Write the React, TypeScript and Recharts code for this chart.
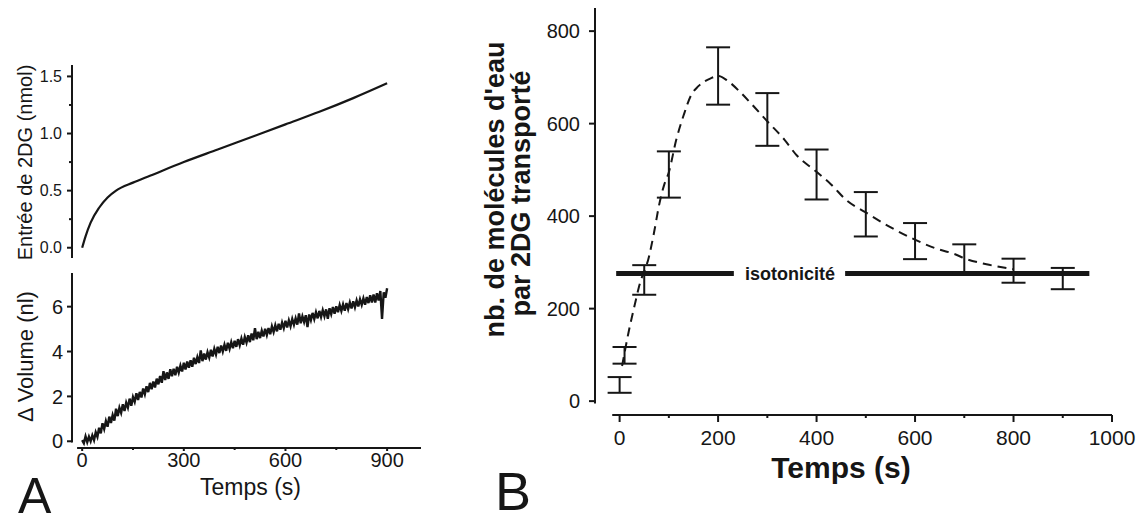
import React from "react"
import {
  ComposedChart,
  LineChart,
  Line,
  XAxis,
  YAxis,
  Scatter,
  ErrorBar,
  ReferenceLine,
  ReferenceDot,
} from "recharts"

// Panel A, top: 2DG entry (nmol) vs time (s)
const ENTRY_T = [0, 10, 25, 50, 75, 100, 150, 200, 300, 400, 500, 600, 700, 800, 900]
const ENTRY_V = [0, 0.1, 0.22, 0.35, 0.44, 0.5, 0.57, 0.63, 0.75, 0.86, 0.97, 1.08, 1.19, 1.31, 1.44]

// Panel A, bottom: volume change (nl), one sample every 5 s from 0 to 900 s
const VOLUME_STEP = 5
const VOLUME_V = [
  0.05, -0.09, 0.22, -0.04, 0.2, 0.0, 0.26, 0.05, 0.4, 0.2,
  0.6, 0.35, 0.8, 0.55, 0.9, 0.65, 1.1, 0.82, 1.17, 0.92,
  1.45, 1.12, 1.5, 1.27, 1.65, 1.35, 1.72, 1.5, 1.9, 1.58,
  1.97, 1.76, 2.14, 1.84, 2.2, 1.95, 2.35, 2.1, 2.45, 2.19,
  2.6, 2.32, 2.66, 2.4, 2.79, 2.54, 2.91, 2.61, 3.12, 2.73,
  3.07, 2.78, 3.21, 2.9, 3.23, 2.94, 3.32, 3.06, 3.37, 3.11,
  3.5, 3.2, 3.55, 3.28, 3.61, 3.32, 3.72, 3.44, 3.75, 3.49,
  4.05, 3.57, 3.91, 3.64, 3.97, 3.73, 4.08, 3.78, 4.12, 3.87,
  4.21, 3.93, 4.27, 4.0, 4.3, 4.03, 4.39, 4.12, 4.42, 4.15,
  4.48, 4.21, 4.55, 4.28, 4.58, 4.3, 4.65, 4.4, 4.72, 4.42,
  4.8, 4.5, 5.04, 4.55, 4.88, 4.6, 4.93, 4.67, 5.01, 4.74,
  5.05, 4.77, 5.12, 4.87, 5.17, 4.9, 5.24, 4.97, 5.29, 5.04,
  5.37, 5.07, 5.39, 5.13, 5.45, 5.19, 5.48, 5.2, 5.7, 5.26,
  5.57, 5.32, 5.62, 5.09, 5.65, 5.4, 5.72, 5.45, 5.75, 5.48,
  5.81, 5.54, 5.84, 5.57, 5.88, 5.46, 5.93, 5.67, 5.98, 5.69,
  6.02, 5.75, 6.07, 5.81, 6.1, 5.82, 6.16, 5.89, 6.19, 5.92,
  6.24, 5.97, 6.28, 6.01, 6.33, 6.08, 6.37, 6.09, 6.43, 6.16,
  6.51, 6.19, 6.54, 6.18, 6.6, 6.27, 6.7, 5.45, 6.64, 6.4,
  6.82,
]

// Panel B: water molecules per transported 2DG (mean and error)
const POINT_T = [0, 10, 50, 100, 200, 300, 400, 500, 600, 700, 800, 900]
const POINT_V = [35, 99, 262, 490, 703, 609, 490, 404, 346, 308, 282, 265]
const POINT_ERR = [17, 18, 32, 50, 62, 57, 54, 48, 39, 31, 26, 23]

// dashed fit through the points
const FIT_T = [5, 18, 30, 40, 60, 70, 80, 90, 100, 115, 130, 145, 160, 185, 200, 220, 245, 270, 300, 335, 360, 395, 430, 460, 500, 545, 590, 640, 680, 705, 745, 800]
const FIT_V = [76, 148, 205, 250, 314, 365, 423, 466, 495, 565, 618, 661, 681, 698, 703, 692, 668, 640, 605, 565, 531, 500, 468, 435, 408, 379, 354, 331, 318, 307, 296, 285]

const ISOTONIC = 276

const entryData = ENTRY_T.map((t, i) => ({ t, v: ENTRY_V[i] }))
const volumeData = VOLUME_V.map((v, i) => ({ t: i * VOLUME_STEP, v }))
const pointData = POINT_T.map((t, i) => ({ t, v: POINT_V[i], err: POINT_ERR[i] }))
const fitData = FIT_T.map((t, i) => ({ t, v: FIT_V[i] }))

const INK = "#161616"
const SANS = "'Liberation Sans', Arial, Helvetica, sans-serif"

type TickOpts = {
  major: number[]
  len: number
  minorLen: number
  gap: number
  size: number
  fmt?: (v: number) => string
}

const xTick = (o: TickOpts) => (props: any) => {
  const { x, y, payload } = props
  const isMajor = o.major.includes(payload.value)
  return (
    <g>
      <line x1={x} x2={x} y1={y} y2={y + (isMajor ? o.len : o.minorLen)} stroke={INK} strokeWidth={2} />
      {isMajor && (
        <text x={x} y={y + o.gap} dy="0.72em" textAnchor="middle" fontSize={o.size} fontFamily={SANS} fill={INK}>
          {o.fmt ? o.fmt(payload.value) : String(payload.value)}
        </text>
      )}
    </g>
  )
}

const yTick = (o: TickOpts) => (props: any) => {
  const { x, y, payload } = props
  const isMajor = o.major.includes(payload.value)
  return (
    <g>
      <line x1={x} x2={x - (isMajor ? o.len : o.minorLen)} y1={y} y2={y} stroke={INK} strokeWidth={2} />
      {isMajor && (
        <text x={x - o.gap} y={y} dy="0.36em" textAnchor="end" fontSize={o.size} fontFamily={SANS} fill={INK}>
          {o.fmt ? o.fmt(payload.value) : String(payload.value)}
        </text>
      )}
    </g>
  )
}

const box = (p: any) => p?.viewBox ?? { x: 0, y: 0, width: 0, height: 0 }

function EntryChart() {
  return (
    <LineChart width={440} height={270} data={entryData} margin={{ top: 65, right: 19, bottom: 12, left: 0 }}>
      <XAxis dataKey="t" type="number" domain={[-30, 1000]} allowDataOverflow hide />
      <YAxis
        type="number"
        domain={[-0.09, 1.6]}
        allowDataOverflow
        width={72}
        ticks={[0, 0.25, 0.5, 0.75, 1, 1.25, 1.5]}
        interval={0}
        tickSize={0}
        tickMargin={0}
        tickLine={false}
        axisLine={{ stroke: INK, strokeWidth: 2 }}
        tick={yTick({ major: [0, 0.5, 1, 1.5], len: 5, minorLen: 3, gap: 10, size: 16, fmt: (v) => v.toFixed(1) })}
        label={(p: any) => {
          const vb = box(p)
          const cx = vb.x + 25
          const cy = vb.y + vb.height / 2 + 1
          return (
            <text transform={`translate(${cx},${cy}) rotate(-90)`} textAnchor="middle" dominantBaseline="central" fontSize={20} fontFamily={SANS} fill={INK}>
              Entrée de 2DG (nmol)
            </text>
          )
        }}
      />
      <Line dataKey="v" type="monotone" stroke={INK} strokeWidth={2.2} dot={false} isAnimationActive={false} />
    </LineChart>
  )
}

function VolumeChart() {
  return (
    <LineChart width={440} height={259} data={volumeData} margin={{ top: 11, right: 19, bottom: 0, left: 0 }}>
      <XAxis
        dataKey="t"
        type="number"
        domain={[-30, 1000]}
        allowDataOverflow
        height={73}
        ticks={[0, 150, 300, 450, 600, 750, 900]}
        interval={0}
        tickSize={0}
        tickMargin={0}
        tickLine={false}
        axisLine={false}
        tick={xTick({ major: [0, 300, 600, 900], len: 3, minorLen: 2, gap: 5, size: 20 })}
        label={(p: any) => {
          const vb = box(p)
          return (
            <text x={vb.x + vb.width / 2 + 4} y={vb.y + 39} textAnchor="middle" dominantBaseline="central" fontSize={23} fontFamily={SANS} fill={INK}>
              Temps (s)
            </text>
          )
        }}
      />
      <YAxis
        type="number"
        domain={[-0.3, 7.5]}
        allowDataOverflow
        width={72}
        ticks={[0, 2, 4, 6]}
        interval={0}
        tickSize={0}
        tickMargin={0}
        tickLine={false}
        axisLine={false}
        tick={yTick({ major: [0, 2, 4, 6], len: 5, minorLen: 3, gap: 9, size: 20 })}
        label={(p: any) => {
          const vb = box(p)
          const cx = vb.x + 25
          const cy = vb.y + vb.height / 2 - 4
          return (
            <text transform={`translate(${cx},${cy}) rotate(-90)`} textAnchor="middle" dominantBaseline="central" fontSize={22} fontFamily={SANS} fill={INK}>
              Δ Volume (nl)
            </text>
          )
        }}
      />
      <ReferenceLine segment={[{ x: -30, y: -0.05 }, { x: -30, y: 7.5 }]} stroke={INK} strokeWidth={2} ifOverflow="visible" />
      <ReferenceLine segment={[{ x: -15, y: -0.3 }, { x: 1000, y: -0.3 }]} stroke={INK} strokeWidth={2} ifOverflow="visible" />
      <Line dataKey="v" type="linear" stroke={INK} strokeWidth={2.4} strokeLinejoin="miter" dot={false} isAnimationActive={false} />
    </LineChart>
  )
}

function WaterChart() {
  return (
    <ComposedChart width={672} height={521} margin={{ top: 8, right: 30, bottom: 0, left: 0 }}>
      <XAxis
        dataKey="t"
        type="number"
        domain={[-50, 1000]}
        allowDataOverflow
        height={106}
        ticks={[0, 100, 200, 300, 400, 500, 600, 700, 800, 900, 1000]}
        interval={0}
        tickSize={0}
        tickMargin={0}
        tickLine={false}
        axisLine={false}
        tick={xTick({ major: [0, 200, 400, 600, 800, 1000], len: 7, minorLen: 3, gap: 15, size: 21 })}
        label={(p: any) => {
          const vb = box(p)
          return (
            <text x={vb.x + 246} y={vb.y + 52} textAnchor="middle" dominantBaseline="central" fontSize={30} fontWeight="bold" fontFamily={SANS} fill={INK}>
              Temps (s)
            </text>
          )
        }}
      />
      <YAxis
        dataKey="v"
        type="number"
        domain={[-30, 850]}
        allowDataOverflow
        width={125}
        ticks={[0, 200, 400, 600, 800]}
        interval={0}
        tickSize={0}
        tickMargin={0}
        tickLine={false}
        axisLine={false}
        tick={yTick({ major: [0, 200, 400, 600, 800], len: 6, minorLen: 3, gap: 15, size: 20 })}
        label={(p: any) => {
          const vb = box(p)
          const cy = vb.y + vb.height / 2
          return (
            <g fontSize={27} fontWeight="bold" fontFamily={SANS} fill={INK} textAnchor="middle">
              <text transform={`translate(${vb.x + 34},${cy - 22}) rotate(-90)`}>nb. de molécules d'eau</text>
              <text transform={`translate(${vb.x + 60},${cy - 18}) rotate(-90)`}>par 2DG transporté</text>
            </g>
          )
        }}
      />
      <ReferenceLine segment={[{ x: -50, y: -5 }, { x: -50, y: 850 }]} stroke={INK} strokeWidth={2} ifOverflow="visible" />
      <ReferenceLine segment={[{ x: -15, y: -30 }, { x: 1000, y: -30 }]} stroke={INK} strokeWidth={2} ifOverflow="visible" />
      <ReferenceLine segment={[{ x: -7, y: ISOTONIC }, { x: 232, y: ISOTONIC }]} stroke={INK} strokeWidth={5} ifOverflow="visible" />
      <ReferenceLine segment={[{ x: 458, y: ISOTONIC }, { x: 954, y: ISOTONIC }]} stroke={INK} strokeWidth={5} ifOverflow="visible" />
      <ReferenceDot
        x={346}
        y={ISOTONIC}
        r={0}
        fill="none"
        stroke="none"
        ifOverflow="visible"
        label={{ value: "isotonicité", position: "center", fontSize: 18, fontWeight: "bold", fontFamily: SANS, fill: INK }}
      />
      <Line
        data={fitData}
        dataKey="v"
        type="monotone"
        stroke={INK}
        strokeWidth={2}
        strokeDasharray="9 6"
        dot={false}
        isAnimationActive={false}
      />
      <Scatter data={pointData} dataKey="v" shape={() => <g />} isAnimationActive={false}>
        <ErrorBar dataKey="err" direction="y" width={12} stroke={INK} strokeWidth={2} isAnimationActive={false} />
      </Scatter>
    </ComposedChart>
  )
}

export default function App() {
  return (
    <div style={{ position: "absolute", left: 0, top: 0, width: 1147, height: 521, background: "#fff", overflow: "hidden" }}>
      <div style={{ position: "absolute", left: 0, top: 0 }}>
        <EntryChart />
      </div>
      <div style={{ position: "absolute", left: 0, top: 262 }}>
        <VolumeChart />
      </div>
      <div style={{ position: "absolute", left: 470, top: 0 }}>
        <WaterChart />
      </div>
      <div style={{ position: "absolute", left: 18, top: 471, fontSize: 50, lineHeight: 1, fontFamily: SANS, color: INK }}>A</div>
      <div style={{ position: "absolute", left: 495, top: 464, fontSize: 54, lineHeight: 1, fontFamily: SANS, color: INK }}>B</div>
    </div>
  )
}
